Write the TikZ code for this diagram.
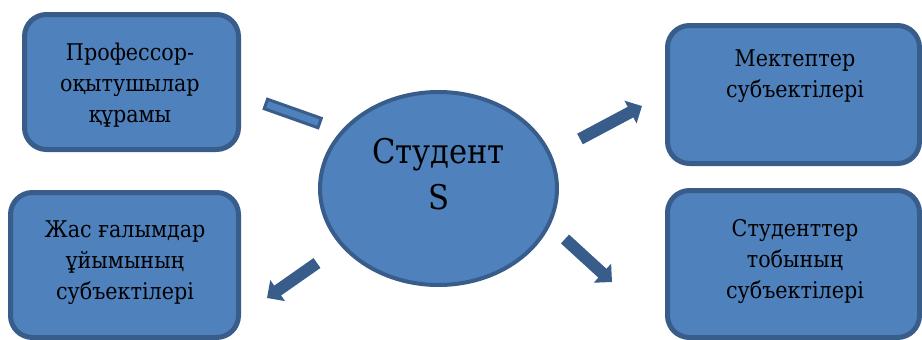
\documentclass[tikz,border=0pt]{standalone}
\usepackage{fontspec}
\IfFontExistsTF{DejaVu Serif Condensed}
  {\setmainfont{DejaVu Serif Condensed}\def\cardsize{23}\def\hubsize{34}}
  {\setmainfont{DejaVu Serif}\def\cardsize{21}\def\hubsize{31}}
\usetikzlibrary{shapes.geometric,arrows.meta}
\definecolor{fillblue}{RGB}{79,129,189}
\definecolor{edgeblue}{RGB}{56,93,138}
\begin{document}
\begin{tikzpicture}[x=1pt,y=-1pt,
  card/.style={rectangle,draw=edgeblue,fill=fillblue,line width=5pt,
    rounded corners=22pt,inner sep=0pt},
  cardtext/.style={align=center,font=\fontsize{\cardsize}{31}\selectfont,inner sep=0pt},
  hub/.style={ellipse,draw=edgeblue,fill=fillblue,line width=4pt,inner sep=0pt},
  hubtext/.style={align=center,font=\fontsize{\hubsize}{46}\selectfont,inner sep=0pt},
  flow/.style={draw=edgeblue,line width=12pt,-{Triangle[length=13pt,width=25pt]}},
  linkbar/.style={rectangle,draw=edgeblue,fill=fillblue,line width=3pt,inner sep=0pt}]
\useasboundingbox (0,0) rectangle (922,340);

% four rounded cards
\node[card,minimum width=214pt,minimum height=135pt] (staff) at (131.5,82) {};
\node[card,minimum width=228pt,minimum height=145pt] (young) at (124.5,265) {};
\node[card,minimum width=252pt,minimum height=138pt] (school) at (793.5,94.5) {};
\node[card,minimum width=252pt,minimum height=147pt] (group) at (793.5,264) {};

\node[cardtext] (stafft) at ([shift={(-1.5,3)}]staff.center)
  {Профессор-\\оқытушылар\\құрамы};
\node[cardtext] (youngt) at ([shift={(0.5,-2)}]young.center)
  {Жас ғалымдар\\ұйымының\\субъектілері};
\node[cardtext] (schoolt) at ([shift={(1.5,-18)}]school.center)
  {Мектептер\\субъектілері};
\node[cardtext] (groupt) at ([shift={(1.5,-2)}]group.center)
  {Студенттер\\тобының\\субъектілері};

% central ellipse
\node[hub,minimum width=237pt,minimum height=193pt] (student) at (438.5,188.5) {};
\node[hubtext] (studentt) at ([shift={(0,-14)}]student.center) {Студент\\S};

% bar between the staff card and the student
\node[linkbar,minimum width=57pt,minimum height=10pt,rotate=-19.5] (link) at (292.75,113.5) {};

% block arrows
\coordinate (a1s) at (580,139); \coordinate (a1e) at (642,106);
\coordinate (a2s) at (565,239); \coordinate (a2e) at (612,282);
\coordinate (a3s) at (317,263); \coordinate (a3e) at (267,298);
\draw[flow] (a1s) -- (a1e);
\draw[flow] (a2s) -- (a2e);
\draw[flow] (a3s) -- (a3e);
\end{tikzpicture}
\end{document}
